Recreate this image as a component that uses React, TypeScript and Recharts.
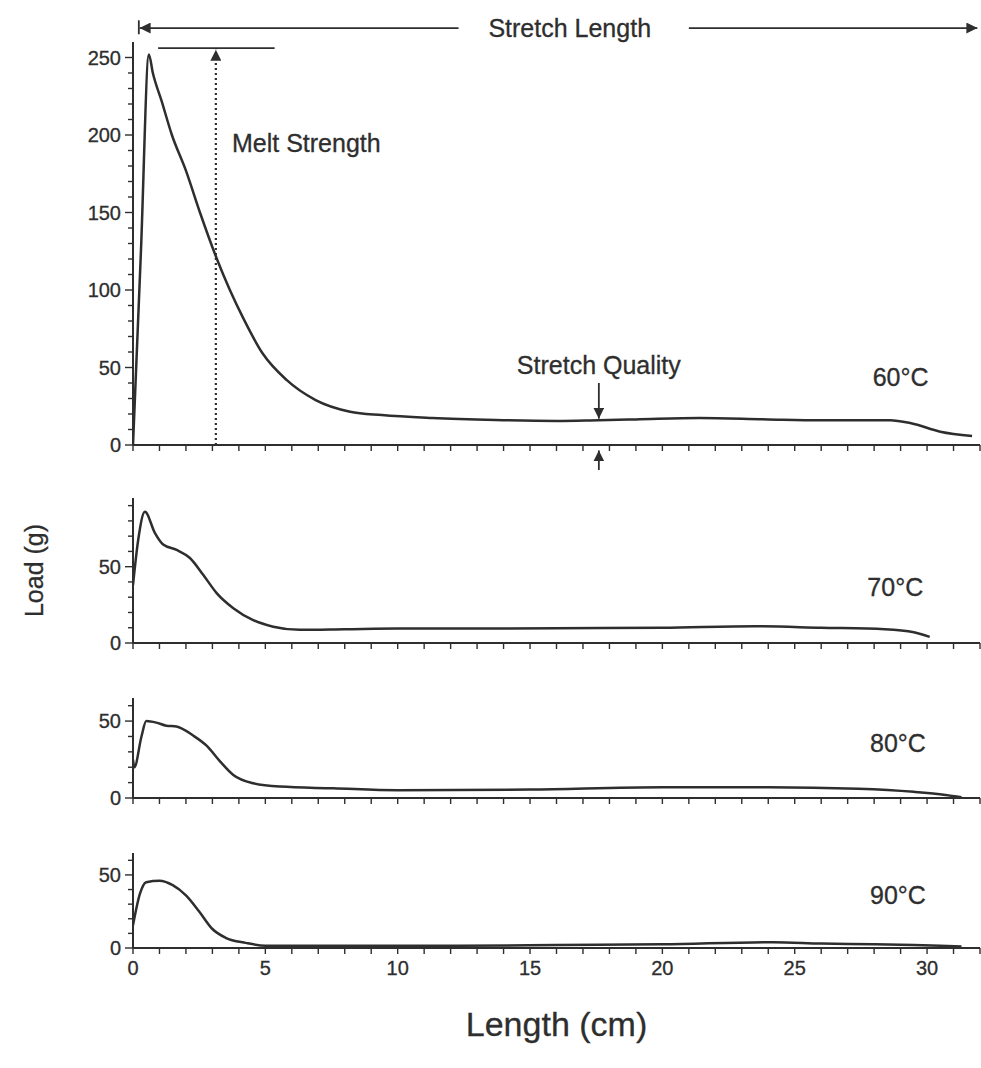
import React from 'react';
import { LineChart, Line, XAxis, YAxis, ReferenceLine, ReferenceDot } from 'recharts';

// load curves, one pair of arrays per temperature
const len60 = [0, 0.3, 0.6, 0.75, 1.08, 1.47, 2.0, 2.53, 3.17, 3.66, 4.16, 4.9, 5.8, 6.9, 8.2, 9.4, 11.3, 13.7, 16, 17.6, 19, 21.4, 24, 26, 28.6, 29.4, 30.5, 31.7];
const load60 = [0, 125, 252, 240, 222, 200, 177, 150, 120, 100, 82, 59, 42, 29, 21.5, 19.3, 17.4, 16.1, 15.5, 16, 16.5, 17.4, 16.5, 16, 16, 14, 8.6, 5.8];

const len70 = [0, 0.2, 0.45, 0.83, 1.14, 1.65, 2.15, 2.65, 3.16, 3.79, 4.54, 5.3, 6.3, 8, 10, 13, 16, 20, 23.5, 26, 28.4, 29.5, 30.1];
const load70 = [38, 68, 86, 72, 64.5, 61, 55.7, 44.7, 32.7, 22.8, 15, 10.7, 8.6, 9, 9.5, 9.5, 9.7, 10, 11, 10, 9, 7, 4];

const len80 = [0, 0.05, 0.32, 0.5, 0.88, 1.26, 1.64, 2.27, 2.78, 3.28, 3.79, 4.54, 5.55, 7.56, 10, 15, 20, 24, 27.4, 29.5, 30.7, 31.3];
const load80 = [25, 20, 40, 50, 49, 47, 46.5, 40.6, 34, 24, 15, 9.6, 7.4, 6.3, 5, 5.5, 7, 7, 6, 4, 2, 0.5];

const len90 = [0, 0.26, 0.5, 1.0, 1.5, 2.0, 2.5, 3.0, 3.5, 4.26, 5, 8, 12, 16, 20, 24.2, 26, 28, 29.5, 30.5, 31.3];
const load90 = [15.5, 37, 45, 46, 43, 36, 25, 13, 7, 3.5, 1.6, 1.5, 1.5, 2, 2.5, 4, 3, 2.5, 2, 1.5, 1];

const xTicks = Array.from({ length: 33 }, (_, i) => i);
const yTicks60 = Array.from({ length: 26 }, (_, i) => i * 10);
const yTicks70 = Array.from({ length: 10 }, (_, i) => i * 10);
const yTicks80 = Array.from({ length: 7 }, (_, i) => i * 10);
const yTicks90 = Array.from({ length: 7 }, (_, i) => i * 10);

const zip = (xs: number[], ys: number[]) => xs.map((x, i) => ({ len: x, load: ys[i] }));

const INK = '#2e2e2e';
const FONT = '"Liberation Sans", Arial, sans-serif';
const W = 981;
const NOTE = 25;

const YTick = (props: any) => {
  const { x, y, payload } = props;
  const major = payload.value % 50 === 0;
  return (
    <g>
      <line x1={x - (major ? 8 : 5)} x2={x} y1={y} y2={y} stroke={INK} strokeWidth={1.4} />
      {major && (
        <text x={x - 12} y={y} dy="0.36em" textAnchor="end" fontSize={20} fontFamily={FONT} fill={INK}
          stroke={INK} strokeWidth={0.3}>
          {payload.value}
        </text>
      )}
    </g>
  );
};

const xTick = (withLabels: boolean) => (props: any) => {
  const { x, y, payload } = props;
  return (
    <g>
      <line x1={x} x2={x} y1={y} y2={y + 6} stroke={INK} strokeWidth={1.4} />
      {withLabels && payload.value % 5 === 0 && (
        <text x={x} y={y + 27} textAnchor="middle" fontSize={20} fontFamily={FONT} fill={INK}
          stroke={INK} strokeWidth={0.3}>
          {payload.value}
        </text>
      )}
    </g>
  );
};

const arrowLine = (marker: string, dash?: string, width = 1.8) => (p: any) => (
  <line x1={p.x1} y1={p.y1} x2={p.x2} y2={p.y2} stroke={INK} strokeWidth={width}
    strokeDasharray={dash} markerEnd={marker ? `url(#${marker})` : undefined} />
);

const note = (text: string, position: 'center' | 'right' = 'center') => ({
  value: text, position, fontSize: NOTE, fontFamily: FONT, fill: INK, stroke: INK, strokeWidth: 0.3,
});

function axes(yMax: number, yTicks: number[], withLabels: boolean, xHeight: number, extra?: any) {
  return [
    <XAxis key="x" dataKey="len" type="number" domain={[0, 32]} ticks={xTicks} interval={0} allowDataOverflow
      axisLine={{ stroke: INK, strokeWidth: 2 }} tickLine={false} tickSize={0} tickMargin={0}
      tick={xTick(withLabels)} height={xHeight} {...(extra?.x || {})} />,
    <YAxis key="y" type="number" domain={[0, yMax]} ticks={yTicks} interval={0} allowDataOverflow width={133}
      axisLine={{ stroke: INK, strokeWidth: 2 }} tickLine={false} tickSize={0} tickMargin={0}
      tick={<YTick />} {...(extra?.y || {})} />,
  ];
}

const curve = (
  <Line dataKey="load" type="monotone" stroke={INK} strokeWidth={2.5} dot={false} isAnimationActive={false} />
);

export default function App() {
  return (
    <div style={{ position: 'absolute', left: 0, top: 0, width: W, height: 1068, background: '#fff', fontFamily: FONT }}>
      {/* 60 °C with the annotations */}
      <div style={{ position: 'absolute', left: 0, top: 0 }}>
        <LineChart width={W} height={470} data={zip(len60, load60)} margin={{ top: 42, right: 1, bottom: 0, left: 0 }}>
          <defs>
            <marker id="head" viewBox="0 0 10 10" refX="10" refY="5" markerWidth="11" markerHeight="11"
              markerUnits="userSpaceOnUse" orient="auto">
              <path d="M0,0 L10,5 L0,10 z" fill={INK} />
            </marker>
          </defs>
          {axes(260, yTicks60, false, 25)}
          {curve}
          {/* stretch length */}
          <ReferenceLine segment={[{ x: 0.22, y: 265 }, { x: 0.22, y: 274 }]} ifOverflow="visible" shape={arrowLine('')} />
          <ReferenceLine segment={[{ x: 12.3, y: 269 }, { x: 0.25, y: 269 }]} ifOverflow="visible" shape={arrowLine('head')} />
          <ReferenceLine segment={[{ x: 21, y: 269 }, { x: 31.9, y: 269 }]} ifOverflow="visible" shape={arrowLine('head')} />
          <ReferenceDot x={16.5} y={269} r={0} fill="none" stroke="none" ifOverflow="visible" label={note('Stretch Length')} />
          {/* melt strength */}
          <ReferenceLine segment={[{ x: 0.95, y: 256 }, { x: 5.35, y: 256 }]} ifOverflow="visible" shape={arrowLine('')} />
          <ReferenceLine segment={[{ x: 3.13, y: 0 }, { x: 3.13, y: 255 }]} ifOverflow="visible" shape={arrowLine('head', '2 3', 2.2)} />
          <ReferenceDot x={3.55} y={195} r={0} fill="none" stroke="none" label={note('Melt Strength', 'right')} />
          {/* stretch quality */}
          <ReferenceLine segment={[{ x: 17.6, y: 40 }, { x: 17.6, y: 17 }]} ifOverflow="visible" shape={arrowLine('head')} />
          <ReferenceLine segment={[{ x: 17.6, y: -21 }, { x: 17.6, y: -3.5 }]} ifOverflow="visible" shape={arrowLine('head')} />
          <ReferenceDot x={17.6} y={51.6} r={0} fill="none" stroke="none" label={note('Stretch Quality')} />
          <ReferenceDot x={29} y={44} r={0} fill="none" stroke="none" label={note('60°C')} />
        </LineChart>
      </div>

      {/* 70 °C */}
      <div style={{ position: 'absolute', left: 0, top: 470 }}>
        <LineChart width={W} height={200} data={zip(len70, load70)} margin={{ top: 28, right: 1, bottom: 0, left: 0 }}>
          {axes(95, yTicks70, false, 27, {
            y: {
              label: {
                content: (p: any) => (
                  <text x={34} y={p.viewBox.y + p.viewBox.height / 2} transform={`rotate(-90 34 ${p.viewBox.y + p.viewBox.height / 2})`}
                    dy="0.36em" textAnchor="middle" fontSize={25} fontFamily={FONT} fill={INK} stroke={INK} strokeWidth={0.3}>
                    Load (g)
                  </text>
                ),
              },
            },
          })}
          {curve}
          <ReferenceDot x={28.8} y={36.7} r={0} fill="none" stroke="none" label={note('70°C')} />
        </LineChart>
      </div>

      {/* 80 °C */}
      <div style={{ position: 'absolute', left: 0, top: 670 }}>
        <LineChart width={W} height={150} data={zip(len80, load80)} margin={{ top: 28, right: 1, bottom: 0, left: 0 }}>
          {axes(65, yTicks80, false, 22)}
          {curve}
          <ReferenceDot x={28.9} y={35.8} r={0} fill="none" stroke="none" label={note('80°C')} />
        </LineChart>
      </div>

      {/* 90 °C with the length axis */}
      <div style={{ position: 'absolute', left: 0, top: 820 }}>
        <LineChart width={W} height={248} data={zip(len90, load90)} margin={{ top: 33, right: 1, bottom: 0, left: 0 }}>
          {axes(65, yTicks90, true, 120, {
            x: {
              label: {
                content: (p: any) => (
                  <text x={p.viewBox.x + p.viewBox.width / 2} y={p.viewBox.y + 88} textAnchor="middle"
                    fontSize={34} fontFamily={FONT} fill={INK} stroke={INK} strokeWidth={0.3}>
                    Length (cm)
                  </text>
                ),
              },
            },
          })}
          {curve}
          <ReferenceDot x={28.9} y={36} r={0} fill="none" stroke="none" label={note('90°C')} />
        </LineChart>
      </div>
    </div>
  );
}
